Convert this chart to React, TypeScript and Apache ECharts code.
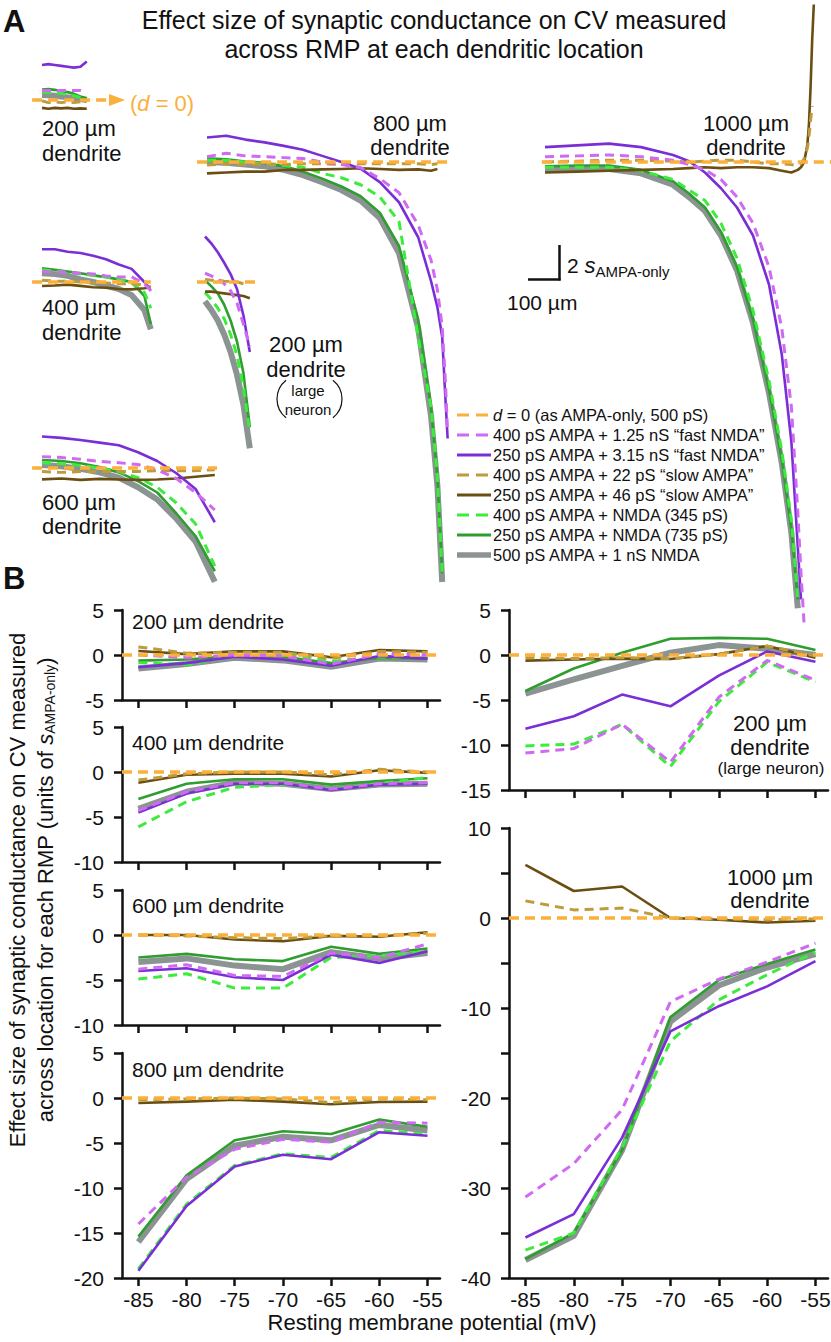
import React, { useEffect, useRef } from "react";
import * as echarts from "echarts";

// ---------------- DATA ----------------
// Resting membrane potential (mV) for panel B
const RMP = [-85, -80, -75, -70, -65, -60, -55];
const RMP_TICKS = [-85, -80, -75, -70, -65, -60, -55];

// Panel B: effect size (units of s_AMPA-only) at each RMP
const B200 = {
  grey: [-1.5, -1.0, -0.3, -0.6, -1.3, -0.4, -0.5],
  green: [-0.63, -0.5, -0.1, -0.2, -0.9, -0.3, -0.4],
  lime: [-0.85, -1.1, -0.1, 0.0, -0.7, -0.2, -0.3],
  brown: [0.45, 0.1, 0.4, 0.4, -0.25, 0.55, 0.4],
  olive: [0.9, 0.2, 0.3, 0.3, -0.4, 0.4, 0.3],
  purple: [-1.35, -0.9, -0.2, -0.5, -1.2, -0.1, -0.4],
  lilac: [0.0, -0.3, 0.0, -0.1, -1.0, 0.1, 0.0],
};
const B400 = {
  grey: [-4.1, -2.2, -1.2, -1.3, -1.9, -1.4, -1.3],
  green: [-3.0, -1.3, -0.8, -0.8, -1.4, -1.0, -0.7],
  lime: [-6.1, -3.3, -1.7, -1.4, -1.9, -1.3, -0.6],
  brown: [-1.2, -0.3, -0.2, -0.2, -0.5, 0.2, -0.1],
  olive: [-0.9, -0.2, 0.0, 0.0, -0.3, 0.3, 0.0],
  purple: [-4.5, -2.4, -1.3, -1.3, -2.0, -1.4, -1.3],
  lilac: [-4.3, -2.2, -1.2, -1.2, -1.9, -1.3, -1.2],
};
const B600 = {
  grey: [-3.0, -2.6, -3.4, -3.8, -1.9, -2.6, -2.0],
  green: [-2.5, -2.1, -2.7, -2.9, -1.3, -2.1, -1.5],
  lime: [-4.9, -4.3, -5.9, -5.9, -2.5, -2.3, -1.8],
  brown: [0.0, 0.0, -0.5, -0.7, -0.1, -0.2, 0.3],
  olive: [0.0, -0.1, -0.3, -0.4, -0.1, -0.1, 0.2],
  purple: [-4.0, -3.7, -4.7, -5.0, -2.2, -3.1, -1.8],
  lilac: [-3.8, -3.3, -4.5, -4.6, -2.0, -2.5, -1.0],
};
const B800 = {
  grey: [-16.0, -9.0, -5.3, -4.3, -4.7, -3.0, -3.6],
  green: [-15.4, -8.6, -4.7, -3.7, -4.0, -2.4, -3.2],
  lime: [-19.0, -11.8, -7.5, -6.2, -6.6, -3.6, -4.0],
  brown: [-0.55, -0.4, -0.2, -0.4, -0.7, -0.45, -0.4],
  olive: [-0.2, -0.1, 0.0, -0.1, -0.5, -0.1, -0.2],
  purple: [-19.2, -12.0, -7.6, -6.3, -6.8, -3.8, -4.2],
  lilac: [-14.0, -8.8, -5.7, -4.6, -4.9, -2.7, -2.8],
};
const B200L = {
  grey: [-4.3, -2.7, -1.2, 0.25, 1.1, 0.7, 0.0],
  green: [-4.0, -1.5, 0.26, 1.8, 1.9, 1.8, 0.55],
  lime: [-10.1, -9.9, -7.7, -12.4, -5.2, -0.8, -3.0],
  brown: [-0.63, -0.5, -0.4, -0.45, 0.1, 1.0, -0.3],
  olive: [-0.3, -0.4, -0.3, -0.4, 0.1, 1.0, -0.1],
  purple: [-8.2, -6.8, -4.4, -5.7, -2.3, 0.4, -0.75],
  lilac: [-10.9, -10.4, -7.7, -11.9, -4.7, -0.6, -2.8],
};
const B1000 = {
  grey: [-38.0, -35.3, -25.8, -11.5, -7.5, -5.5, -4.0],
  green: [-37.9, -35.0, -25.8, -11.0, -6.9, -5.1, -3.5],
  lime: [-36.9, -35.0, -25.5, -13.7, -9.1, -6.3, -3.8],
  brown: [5.9, 3.0, 3.5, 0.0, -0.2, -0.5, -0.3],
  olive: [1.9, 0.9, 1.1, 0.0, -0.1, -0.2, -0.1],
  purple: [-35.5, -32.9, -24.4, -12.6, -9.8, -7.6, -4.8],
  lilac: [-31.0, -27.3, -21.3, -9.3, -6.8, -4.9, -2.8],
};
const D_ZERO = [0, 0, 0, 0, 0, 0, 0];

// Panel A: x = distance (µm) from start of each trace, y = effect (units of s_AMPA-only)
const A200 = {
  x: [0, 20, 40, 60, 80, 100, 120, 140],
  grey: [0.28, 0.27, 0.24, 0.2, 0.15, 0.1, 0.05, 0.0],
  green: [0.6, 0.62, 0.58, 0.5, 0.45, 0.35, 0.2, 0.1],
  lime: [0.45, 0.45, 0.4, 0.38, 0.3, 0.25, 0.15, 0.05],
  brown: [-0.45, -0.5, -0.45, -0.48, -0.45, -0.5, -0.48, -0.5],
  olive: [-0.05, -0.15, -0.1, -0.15, -0.1, -0.15, -0.1, -0.1],
  purple: [2.0, 2.05, 2.0, 1.95, 1.9, 1.85, 1.9, 2.2],
  lilac: [0.55, 0.55, 0.55, 0.55, 0.55, 0.55, 0.55, 0.45],
  dzero: [-31, 219],
};
const A400 = {
  x: [0, 40, 80, 120, 160, 200, 240, 280, 320, 340],
  grey: [0.5, 0.45, 0.35, 0.15, 0.0, -0.2, -0.4, -0.75, -1.6, -2.7],
  green: [0.78, 0.7, 0.6, 0.5, 0.38, 0.28, 0.15, 0.0, -0.8, -2.4],
  lime: [0.7, 0.62, 0.55, 0.45, 0.38, 0.3, 0.15, -0.05, -0.6, -1.5],
  brown: [-0.23, -0.2, -0.15, -0.22, -0.3, -0.33, -0.4, -0.42, -0.36, -0.3],
  olive: [0.1, 0.05, 0.05, 0.0, -0.05, -0.05, -0.1, -0.1, -0.15, -0.3],
  purple: [1.87, 1.87, 1.73, 1.66, 1.5, 1.3, 1.0, 0.75, 0.0, -0.5],
  lilac: [0.6, 0.58, 0.55, 0.5, 0.46, 0.35, 0.28, 0.3, -0.1, -0.5],
  dzero: [-31, 340],
};
const A200L = {
  x: [0, 20, 40, 60, 80, 100, 120, 140],
  grey: [-1.1, -1.6, -2.2, -3.0, -4.0, -5.3, -7.0, -9.5],
  green: [0.1, -0.25, -0.65, -1.3, -2.2, -3.4, -5.2, -8.3],
  lime: [-0.6, -1.0, -1.5, -2.1, -3.0, -4.2, -6.0, -8.6],
  brown: [-0.55, -0.55, -0.6, -0.65, -0.7, -0.75, -0.8, -0.93],
  olive: [0.15, 0.1, 0.1, 0.05, 0.02, 0.0, -0.1, null],
  purple: [2.6, 2.2, 1.7, 1.1, 0.45, -0.4, -1.9, -4.0],
  lilac: [0.5, 0.35, 0.15, -0.1, -0.5, -1.2, -2.4, -3.7],
  dzero: [-25, 166],
};
const A600 = {
  x: [0, 60, 120, 180, 240, 300, 360, 420, 480, 540],
  grey: [0.17, 0.1, -0.05, -0.25, -0.55, -1.1, -1.8, -2.9, -4.2, -6.5],
  green: [0.46, 0.4, 0.27, 0.05, -0.25, -0.75, -1.4, -2.6, -3.9, -5.9],
  lime: [0.3, 0.25, 0.15, 0.0, -0.2, -0.55, -1.1, -2.0, -3.2, -5.6],
  brown: [-0.65, -0.6, -0.68, -0.62, -0.66, -0.68, -0.66, -0.6, -0.5, -0.4],
  olive: [-0.2, -0.25, -0.2, -0.2, -0.2, -0.2, -0.15, -0.15, -0.15, -0.1],
  purple: [1.8, 1.72, 1.6, 1.45, 1.3, 0.9, 0.4, -0.3, -1.2, -3.1],
  lilac: [0.65, 0.6, 0.5, 0.38, 0.3, 0.2, -0.1, -0.6, -1.4, -2.4],
  dzero: [-31, 547],
};
const A800 = {
  x: [0, 60, 120, 180, 240, 300, 360, 420, 480, 540, 600, 660, 700, 720, 735, 745, 752],
  grey: [0.0, -0.05, -0.15, -0.25, -0.45, -0.75, -1.15, -1.6, -2.2, -3.2, -5.2, -9.5, -14.5, -18.5, -24, null, null],
  green: [0.21, 0.15, 0.03, -0.05, -0.25, -0.55, -0.95, -1.4, -1.95, -2.9, -4.8, -9.0, -14, -18, -23.5, null, null],
  lime: [0.1, 0.1, 0.0, -0.1, -0.2, -0.3, -0.65, -0.9, -1.3, -2.0, -3.4, -10.0, -14, -18, -23.5, null, null],
  brown: [-0.65, -0.6, -0.55, -0.55, -0.46, -0.45, -0.42, -0.4, -0.36, -0.4, -0.45, -0.42, -0.5, -0.4, null, null, null],
  olive: [-0.17, -0.1, -0.15, -0.1, -0.15, -0.1, -0.1, -0.15, -0.1, -0.1, -0.1, -0.1, -0.15, -0.1, null, null, null],
  purple: [1.4, 1.5, 1.28, 1.12, 0.92, 0.7, 0.35, 0.0, -0.38, -1.15, -2.3, -4.3, -6.8, -8.3, -10.0, -13.5, -15.8],
  lilac: [0.3, 0.5, 0.35, 0.3, 0.25, 0.2, 0.0, -0.15, -0.32, -0.95, -1.75, -3.6, -5.6, -7.3, -9.4, -12.5, -15.5],
  dzero: [-31, 765],
};
const A1000 = {
  x: [0, 100, 200, 300, 400, 450, 500, 550, 600, 650, 700, 740, 770, 790, 800, 810, 820, 825, 830, 835, 840],
  grey: [-0.45, -0.4, -0.4, -0.65, -1.3, -2.0, -2.8, -4.2, -6.2, -9.2, -13.2, -17.2, -21.2, -25.5, null, null, null, null, null, null, null],
  green: [-0.25, -0.2, -0.2, -0.45, -1.1, -1.8, -2.6, -4.0, -6, -9, -13, -17, -21, -25, null, null, null, null, null, null, null],
  lime: [-0.3, -0.3, -0.3, -0.5, -1.0, -1.6, -2.2, -3.5, -5.5, -8.5, -12.5, -16.5, -20.5, -25, null, null, null, null, null, null, null],
  brown: [-0.6, -0.55, -0.5, -0.45, -0.4, -0.35, -0.3, -0.35, -0.3, -0.3, -0.35, -0.5, -0.6, -0.45, -0.3, 0.0, 1.0, 2.2, 4.3, 7.0, 9.0],
  olive: [0.0, 0.05, 0.1, 0.1, 0.05, 0.0, 0.05, 0.1, 0.1, 0.0, -0.1, -0.1, -0.15, -0.15, -0.1, 0.2, 0.8, 1.5, 2.4, 3.2, null],
  purple: [0.85, 0.95, 1.05, 0.85, 0.4, 0.05, -0.6, -1.5, -2.6, -4.2, -7, -11, -16, -22, -25, null, null, null, null, null, null],
  lilac: [0.3, 0.35, 0.4, 0.3, 0.1, -0.15, -0.45, -1.0, -2.0, -3.5, -6, -9.5, -14, -20, -23.5, -26.5, null, null, null, null, null],
  dzero: [-10, 900],
};

// ---------------- STYLE ----------------
const FONT = "'Liberation Sans', Arial, Helvetica, sans-serif";
const INK = "#111111";
const COLORS: Record<string, string> = {
  dzero: "#FBB03B",
  lilac: "#D06AF2",
  purple: "#7A2ED6",
  olive: "#BE9C3A",
  brown: "#6A4E12",
  lime: "#3DEB3D",
  green: "#2F9D2F",
  grey: "#8B9393",
};
const DASH = [9, 6];
const LSTYLE: Record<string, any> = {
  grey: { width: 6, type: "solid" },
  green: { width: 2.6, type: "solid" },
  lime: { width: 3, type: DASH },
  brown: { width: 2.6, type: "solid" },
  olive: { width: 3, type: DASH },
  purple: { width: 2.6, type: "solid" },
  lilac: { width: 3, type: DASH },
  dzero: { width: 3.5, type: [10, 6] },
};
const ORDER = ["grey", "green", "lime", "brown", "olive", "purple", "lilac"];
const LABELS: Record<string, string> = {
  dzero: "{i|d} = 0 (as AMPA-only, 500 pS)",
  lilac: "400 pS AMPA + 1.25 nS “fast NMDA”",
  purple: "250 pS AMPA + 3.15 nS “fast NMDA”",
  olive: "400 pS AMPA + 22 pS “slow AMPA”",
  brown: "250 pS AMPA + 46 pS “slow AMPA”",
  lime: "400 pS AMPA + NMDA (345 pS)",
  green: "250 pS AMPA + NMDA (735 pS)",
  grey: "500 pS AMPA + 1 nS NMDA",
};
const LEGEND_ORDER = ["dzero", "lilac", "purple", "olive", "brown", "lime", "green", "grey"];

// Panel A scale (px per µm, px per unit)
const AX = 0.32;
const AY = 17.5;
const A_LAYOUT = [
  { d: A200, x0: 42, base: 100, xMin: -40, xMax: 260, yMin: -1.5, yMax: 2.6 },
  { d: A400, x0: 42, base: 282, xMin: -40, xMax: 360, yMin: -3, yMax: 2.2 },
  { d: A200L, x0: 205, base: 282, xMin: -40, xMax: 200, yMin: -10, yMax: 3 },
  { d: A600, x0: 42, base: 468, xMin: -40, xMax: 560, yMin: -7, yMax: 2.2 },
  { d: A800, x0: 207, base: 162, xMin: -40, xMax: 800, yMin: -25, yMax: 2 },
  { d: A1000, x0: 545, base: 162, xMin: -40, xMax: 900, yMin: -27, yMax: 10 },
];

const B_XMIN = -86.7;
const B_XMAX = -53.7;
const B_LAYOUT = [
  { d: B200, left: 122, top: 610, width: 318, height: 90, yMin: -5, yMax: 5, xLabels: false, every: 5 },
  { d: B400, left: 122, top: 727, width: 318, height: 135, yMin: -10, yMax: 5, xLabels: false, every: 5 },
  { d: B600, left: 122, top: 890, width: 318, height: 135, yMin: -10, yMax: 5, xLabels: false, every: 5 },
  { d: B800, left: 122, top: 1053, width: 318, height: 225, yMin: -20, yMax: 5, xLabels: true, every: 5 },
  { d: B200L, left: 509, top: 610, width: 319, height: 180, yMin: -15, yMax: 5, xLabels: false, every: 5 },
  { d: B1000, left: 509, top: 828, width: 319, height: 450, yMin: -40, yMax: 10, xLabels: true, every: 10 },
];

// ---------------- HELPERS ----------------
function lineSeries(name: string, key: string, idx: number, data: any[]) {
  return {
    name,
    type: "line",
    xAxisIndex: idx,
    yAxisIndex: idx,
    data,
    symbol: "none",
    showSymbol: false,
    clip: false,
    silent: true,
    connectNulls: false,
    lineStyle: { color: COLORS[key], width: LSTYLE[key].width, type: LSTYLE[key].type, cap: "butt", join: "round" },
  };
}

function txt(x: number, y: number, text: string, o: any = {}) {
  return {
    type: "text",
    x,
    y,
    rotation: o.rotation || 0,
    silent: true,
    z: 100,
    style: {
      text,
      fontSize: o.size || 21,
      fontFamily: FONT,
      fontWeight: o.weight || "normal",
      fontStyle: o.style || "normal",
      fill: o.fill || INK,
      align: o.align || "left",
      verticalAlign: "middle",
      rich: o.rich,
    },
  };
}

function seg(x1: number, y1: number, x2: number, y2: number, stroke: string, w: number, dash?: number[]) {
  return {
    type: "line",
    silent: true,
    z: 100,
    shape: { x1, y1, x2, y2 },
    style: { stroke, lineWidth: w, lineDash: dash || null, lineCap: "butt" },
  };
}

function buildOption() {
  const grid: any[] = [];
  const xAxis: any[] = [];
  const yAxis: any[] = [];
  const series: any[] = [];
  let idx = 0;

  // Panel A
  A_LAYOUT.forEach((g) => {
    grid.push({
      left: g.x0 + g.xMin * AX,
      top: g.base - g.yMax * AY,
      width: (g.xMax - g.xMin) * AX,
      height: (g.yMax - g.yMin) * AY,
      outerBoundsMode: "none",
    });
    xAxis.push({ gridIndex: idx, type: "value", min: g.xMin, max: g.xMax, show: false });
    yAxis.push({ gridIndex: idx, type: "value", min: g.yMin, max: g.yMax, show: false });
    const d: any = g.d;
    ORDER.forEach((k) => {
      const data = d.x
        .map((xv: number, i: number) => (d[k][i] == null ? null : [xv, d[k][i]]))
        .filter((p: any) => p !== null);
      series.push(lineSeries(LABELS[k], k, idx, data));
    });
    series.push(lineSeries("d = 0", "dzero", idx, d.dzero.map((xv: number) => [xv, 0])));
    idx++;
  });

  // Panel B
  const axisLs = { color: INK, width: 2.5 };
  B_LAYOUT.forEach((g) => {
    grid.push({ left: g.left, top: g.top, width: g.width, height: g.height, outerBoundsMode: "none" });
    xAxis.push({
      gridIndex: idx,
      type: "value",
      min: B_XMIN,
      max: B_XMAX,
      axisLine: { show: true, onZero: false, lineStyle: axisLs },
      axisTick: { show: true, customValues: RMP_TICKS, length: 8, lineStyle: axisLs },
      axisLabel: {
        show: g.xLabels,
        customValues: RMP_TICKS,
        fontSize: 21,
        fontFamily: FONT,
        color: INK,
        margin: 11,
      },
      splitLine: { show: false },
    });
    const every = g.every;
    yAxis.push({
      gridIndex: idx,
      type: "value",
      min: g.yMin,
      max: g.yMax,
      interval: 5,
      axisLine: { show: true, onZero: false, lineStyle: axisLs },
      axisTick: { show: true, length: 8, lineStyle: axisLs },
      axisLabel: {
        fontSize: 21,
        fontFamily: FONT,
        color: INK,
        margin: 18,
        formatter: (v: number) => (Math.round(v) % every === 0 ? String(Math.round(v)) : ""),
      },
      splitLine: { show: false },
    });
    const d: any = g.d;
    ORDER.forEach((k) => {
      series.push(lineSeries(LABELS[k], k, idx, RMP.map((xv, i) => [xv, d[k][i]])));
    });
    const dz: any = lineSeries("d = 0", "dzero", idx, RMP.map((xv, i) => [xv, D_ZERO[i]]));
    dz.lineStyle = { ...dz.lineStyle, opacity: 0 };
    dz.markLine = {
      silent: true,
      symbol: "none",
      label: { show: false },
      lineStyle: { color: COLORS.dzero, width: 3.5, type: [10, 6] },
      data: [{ yAxis: 0 }],
    };
    series.push(dz);
    idx++;
  });

  // Graphic annotations
  const g: any[] = [];
  g.push(txt(3, 21, "A", { size: 31, weight: "bold" }));
  g.push(txt(3, 578, "B", { size: 31, weight: "bold" }));
  g.push(txt(434, 20, "Effect size of synaptic conductance on CV measured", { size: 25, align: "center" }));
  g.push(txt(434, 49, "across RMP at each dendritic location", { size: 25, align: "center" }));

  // d = 0 arrow
  g.push({
    type: "polygon",
    silent: true,
    z: 100,
    shape: { points: [[109, 94], [125, 100], [109, 106]] },
    style: { fill: COLORS.dzero },
  });
  g.push(
    txt(130, 103, "({i|d} = 0)", {
      size: 22,
      fill: COLORS.dzero,
      rich: { i: { fontStyle: "italic", fontFamily: FONT, fontSize: 22, fill: COLORS.dzero } },
    })
  );

  // panel A labels
  g.push(txt(42, 128, "200 µm", { size: 22 }));
  g.push(txt(42, 153, "dendrite", { size: 22 }));
  g.push(txt(42, 307, "400 µm", { size: 22 }));
  g.push(txt(42, 332, "dendrite", { size: 22 }));
  g.push(txt(42, 502, "600 µm", { size: 22 }));
  g.push(txt(42, 526, "dendrite", { size: 22 }));
  g.push(txt(410, 123, "800 µm", { size: 22, align: "center" }));
  g.push(txt(410, 147, "dendrite", { size: 22, align: "center" }));
  g.push(txt(746, 123, "1000 µm", { size: 22, align: "center" }));
  g.push(txt(746, 147, "dendrite", { size: 22, align: "center" }));
  g.push(txt(306, 344, "200 µm", { size: 22, align: "center" }));
  g.push(txt(306, 369, "dendrite", { size: 22, align: "center" }));
  g.push(txt(308, 390, "large", { size: 15, align: "center" }));
  g.push(txt(308, 409, "neuron", { size: 15, align: "center" }));
  g.push({
    type: "arc",
    silent: true,
    z: 100,
    shape: { cx: 301, cy: 399, r: 24, startAngle: Math.PI - 0.9, endAngle: Math.PI + 0.9, clockwise: true },
    style: { stroke: INK, lineWidth: 1.2, fill: null },
  });
  g.push({
    type: "arc",
    silent: true,
    z: 100,
    shape: { cx: 318, cy: 399, r: 24, startAngle: -0.9, endAngle: 0.9, clockwise: true },
    style: { stroke: INK, lineWidth: 1.2, fill: null },
  });

  // scale bar
  g.push(seg(559.5, 245, 559.5, 280.5, INK, 2.5));
  g.push(seg(528, 279.5, 560.5, 279.5, INK, 2.5));
  g.push(
    txt(567, 265, "2 {i|s}{sub|AMPA-only}", {
      size: 21,
      rich: {
        i: { fontStyle: "italic", fontFamily: FONT, fontSize: 22, fill: INK },
        sub: { fontFamily: FONT, fontSize: 15, fill: INK, verticalAlign: "bottom", padding: [12, 0, 0, 0] },
      },
    })
  );
  g.push(txt(507, 302, "100 µm", { size: 21 }));

  // legend
  LEGEND_ORDER.forEach((k, i) => {
    const y = 415 + i * 20;
    const st = LSTYLE[k];
    const dash = Array.isArray(st.type) ? [12, 7] : null;
    g.push(seg(457, y, 491, y, COLORS[k], k === "grey" ? 5.5 : 3, dash as any));
    g.push(
      txt(493, y, LABELS[k], {
        size: 16.5,
        rich: { i: { fontStyle: "italic", fontFamily: FONT, fontSize: 16.5, fill: INK } },
      })
    );
  });

  // panel B titles
  g.push(txt(132, 621, "200 µm dendrite", { size: 21 }));
  g.push(txt(132, 742, "400 µm dendrite", { size: 21 }));
  g.push(txt(132, 905, "600 µm dendrite", { size: 21 }));
  g.push(txt(132, 1069, "800 µm dendrite", { size: 21 }));
  g.push(txt(770, 723, "200 µm", { size: 22, align: "center" }));
  g.push(txt(770, 747, "dendrite", { size: 22, align: "center" }));
  g.push(txt(771, 768, "(large neuron)", { size: 17, align: "center" }));
  g.push(txt(770, 877, "1000 µm", { size: 22, align: "center" }));
  g.push(txt(770, 900, "dendrite", { size: 22, align: "center" }));

  // axis titles
  g.push(txt(432, 1322, "Resting membrane potential (mV)", { size: 22, align: "center" }));
  g.push(
    txt(17, 890, "Effect size of synaptic conductance on CV measured", {
      size: 22,
      align: "center",
      rotation: Math.PI / 2,
    })
  );
  g.push(
    txt(45, 890, "across location for each RMP (units of {i|s}{sub|AMPA-only})", {
      size: 22,
      align: "center",
      rotation: Math.PI / 2,
      rich: {
        i: { fontStyle: "italic", fontFamily: FONT, fontSize: 22, fill: INK },
        sub: { fontFamily: FONT, fontSize: 14, fill: INK, verticalAlign: "bottom", padding: [10, 0, 0, 0] },
      },
    })
  );

  return {
    animation: false,
    backgroundColor: "#ffffff",
    textStyle: { fontFamily: FONT },
    grid,
    xAxis,
    yAxis,
    series,
    graphic: { elements: g },
  };
}

export default function App() {
  const ref = useRef<HTMLDivElement>(null);
  useEffect(() => {
    if (!ref.current) return;
    const chart = echarts.init(ref.current, null, { renderer: "svg" });
    chart.setOption(buildOption() as any);
    return () => chart.dispose();
  }, []);
  return (
    <div
      ref={ref}
      style={{ position: "absolute", left: 0, top: 0, width: 831, height: 1342, background: "#ffffff" }}
    />
  );
}
